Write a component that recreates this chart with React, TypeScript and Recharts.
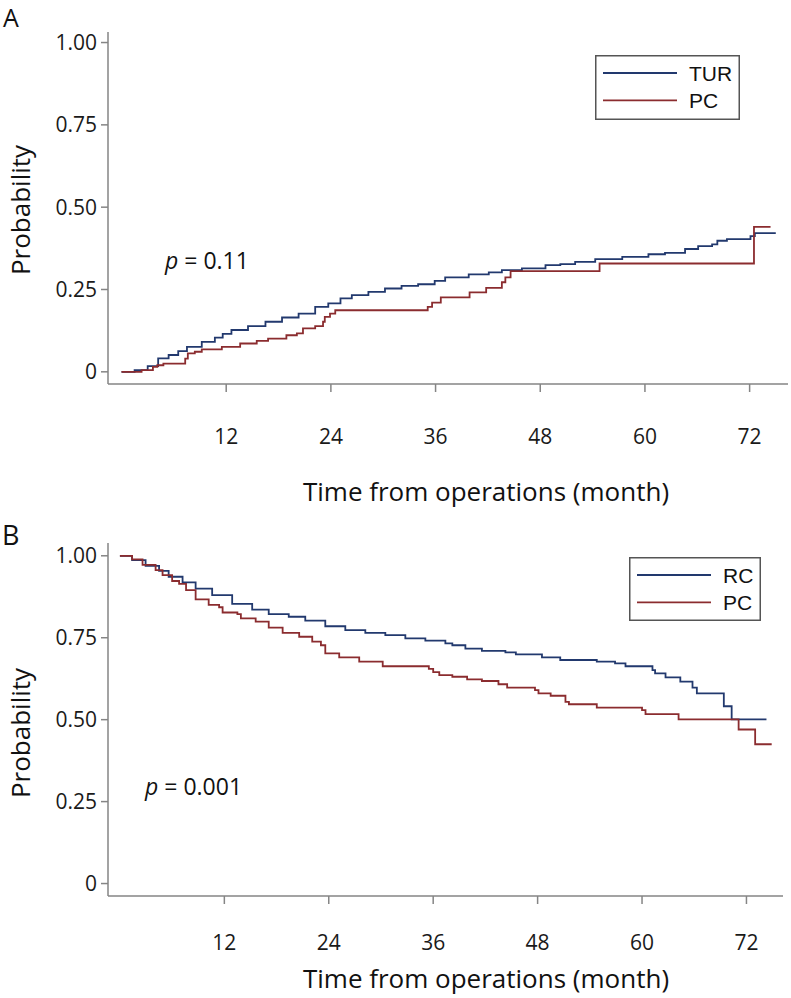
import React from "react";
import { LineChart, Line, XAxis, YAxis, Legend } from "recharts";

// Panel A: cumulative probability (TUR vs PC)
const timesA_TUR = [0, 1.5, 3.0, 4.2, 5.4, 6.5, 7.5, 9.2, 10.7, 11.6, 12.6, 14.5, 16.5, 18.4, 20.3, 22.2, 23.7, 25.1, 26.4, 28.3, 30.2, 32.1, 34.0, 35.9, 37.1, 39.8, 42.1, 43.6, 45.9, 48.6, 50.3, 52.0, 54.3, 57.4, 60.4, 62.3, 64.6, 66.1, 67.7, 68.3, 69.4, 72.1, 72.6, 75.0];
const probA_TUR = [0, 0.005, 0.017, 0.041, 0.051, 0.063, 0.076, 0.091, 0.104, 0.115, 0.127, 0.139, 0.152, 0.165, 0.177, 0.197, 0.208, 0.223, 0.233, 0.243, 0.253, 0.261, 0.266, 0.276, 0.287, 0.296, 0.302, 0.309, 0.314, 0.324, 0.327, 0.334, 0.342, 0.349, 0.357, 0.361, 0.373, 0.382, 0.387, 0.398, 0.403, 0.412, 0.421, 0.421];
const timesA_PC = [0, 2.3, 3.6, 4.1, 4.8, 7.3, 7.6, 8.4, 9.2, 11.5, 13.6, 15.5, 16.8, 18.9, 20.1, 20.8, 22.2, 23.1, 23.3, 23.9, 24.5, 35.1, 35.6, 36.6, 39.9, 41.8, 43.6, 44.0, 44.6, 54.8, 72.5, 74.4];
const probA_PC = [0, 0.005, 0.015, 0.02, 0.025, 0.04, 0.056, 0.061, 0.068, 0.076, 0.086, 0.094, 0.101, 0.111, 0.117, 0.132, 0.139, 0.152, 0.167, 0.177, 0.187, 0.197, 0.21, 0.226, 0.241, 0.255, 0.272, 0.287, 0.306, 0.329, 0.44, 0.44];

// Panel B: survival probability (RC vs PC)
const timesB_RC = [0, 1.4, 2.95, 4.5, 5.6, 7.2, 8.7, 10.6, 12.9, 15.2, 17.1, 19.4, 21.3, 23.6, 25.9, 28.2, 30.5, 32.8, 35.1, 37.4, 38.2, 39.7, 41.6, 44.3, 45.5, 48.5, 50.6, 54.8, 56.9, 58.1, 61.2, 61.5, 62.7, 64.4, 65.8, 66.3, 69.4, 70.3, 74.3];
const probB_RC = [1.0, 0.987, 0.969, 0.954, 0.936, 0.919, 0.9, 0.88, 0.853, 0.836, 0.822, 0.814, 0.802, 0.785, 0.773, 0.765, 0.758, 0.748, 0.741, 0.733, 0.727, 0.717, 0.71, 0.705, 0.699, 0.69, 0.682, 0.677, 0.672, 0.663, 0.651, 0.641, 0.629, 0.616, 0.598, 0.58, 0.541, 0.501, 0.501];
const timesB_PC = [0, 1.4, 2.6, 4.1, 4.9, 6.0, 6.8, 7.6, 8.7, 10.2, 11.4, 11.8, 13.5, 13.9, 15.6, 17.1, 18.7, 20.6, 22.1, 23.1, 23.6, 25.2, 27.5, 30.2, 35.5, 36.0, 36.7, 38.2, 39.9, 41.6, 43.5, 44.5, 47.7, 48.1, 49.5, 51.2, 51.6, 54.8, 60.0, 60.4, 64.2, 71.1, 73.0, 74.9];
const probB_PC = [1.0, 0.989, 0.972, 0.956, 0.941, 0.923, 0.914, 0.895, 0.867, 0.85, 0.843, 0.827, 0.822, 0.809, 0.799, 0.781, 0.765, 0.753, 0.738, 0.727, 0.702, 0.69, 0.677, 0.663, 0.655, 0.645, 0.636, 0.631, 0.623, 0.618, 0.608, 0.598, 0.59, 0.58, 0.573, 0.554, 0.547, 0.537, 0.529, 0.517, 0.501, 0.47, 0.425, 0.425];

const xTicks = [12, 24, 36, 48, 60, 72];
const yTicks = [0, 0.25, 0.5, 0.75, 1];
const yTickLabels = ["0", "0.25", "0.50", "0.75", "1.00"];

const seriesA = ["TUR", "PC"];
const seriesB = ["RC", "PC"];

const BLUE = "#22396e";
const RED = "#8b2c2f";
const AXIS = "#858585";
const FONT = "'Open Sans', 'Noto Sans', sans-serif";

const toPoints = (ts: number[], vs: number[]) => ts.map((t, i) => ({ t, v: vs[i] }));

const fmtY = (v: number) => {
  const i = yTicks.indexOf(v);
  return i >= 0 ? yTickLabels[i] : String(v);
};

const makeLegend = (names: string[], w: number, h: number, lineX1: number, lineX2: number, textX: number) => (props: any) => {
  const payload = [...(props.payload || [])].sort(
    (a: any, b: any) => names.indexOf(a.value) - names.indexOf(b.value)
  );
  return (
    <svg width={w} height={h} style={{ display: "block" }}>
      <rect x={0.75} y={0.75} width={w - 1.5} height={h - 1.5} fill="#fff" stroke="#555" strokeWidth={1.5} />
      {payload.map((p: any, i: number) => {
        const y = 18 + i * 27.4;
        return (
          <g key={i}>
            <line x1={lineX1} x2={lineX2} y1={y} y2={y} stroke={p.color} strokeWidth={1.8} />
            <text x={textX} y={y} dy="0.36em" fontFamily="'Liberation Sans', Arial, sans-serif" fontSize={21} fill="#111">
              {p.value}
            </text>
          </g>
        );
      })}
    </svg>
  );
};

interface PanelProps {
  height: number;
  margin: { top: number; right: number; bottom: number; left: number };
  xDomain: [number, number];
  yDomain: [number, number];
  tickMargin: number;
  names: string[];
  d1: { t: number; v: number }[];
  d2: { t: number; v: number }[];
  legendPos: { left: number; top: number; w: number; h: number; lx1: number; lx2: number; tx: number };
}

const Panel = ({ height, margin, xDomain, yDomain, tickMargin, names, d1, d2, legendPos }: PanelProps) => (
  <LineChart width={791} height={height} margin={margin}>
    <XAxis
      type="number"
      dataKey="t"
      domain={xDomain}
      allowDataOverflow
      ticks={xTicks}
      height={60}
      tickSize={8}
      tickMargin={tickMargin}
      stroke={AXIS}
      strokeWidth={1.5}
      tick={{ fill: "#1a1a1a", fontSize: 21, fontFamily: FONT }}
      interval={0}
    />
    <YAxis
      type="number"
      dataKey="v"
      domain={yDomain}
      allowDataOverflow
      ticks={yTicks}
      width={60}
      tickSize={7}
      tickMargin={4}
      stroke={AXIS}
      strokeWidth={1.5}
      tickFormatter={fmtY}
      tick={{ fill: "#1a1a1a", fontSize: 21, fontFamily: FONT }}
      interval={0}
    />
    <Legend
      layout="horizontal"
      verticalAlign="middle"
      align="center"
      wrapperStyle={{ left: legendPos.left, top: legendPos.top, width: legendPos.w, height: legendPos.h }}
      content={makeLegend(names, legendPos.w, legendPos.h, legendPos.lx1, legendPos.lx2, legendPos.tx)}
    />
    <Line data={d1} dataKey="v" name={names[0]} type="stepAfter" stroke={BLUE} strokeWidth={1.8} dot={false} isAnimationActive={false} />
    <Line data={d2} dataKey="v" name={names[1]} type="stepAfter" stroke={RED} strokeWidth={1.8} dot={false} isAnimationActive={false} />
  </LineChart>
);

export default function App() {
  return (
    <div style={{ position: "absolute", left: 0, top: 0, width: 791, height: 998, background: "#fff", overflow: "hidden" }}>
      <div style={{ position: "absolute", left: 0, top: 0 }}>
        <Panel
          height={500}
          margin={{ top: 32, right: 3, bottom: 56, left: 48 }}
          xDomain={[-1.55, 76.4]}
          yDomain={[-0.037, 1.032]}
          tickMargin={37}
          names={seriesA}
          d1={toPoints(timesA_TUR, probA_TUR)}
          d2={toPoints(timesA_PC, probA_PC)}
          legendPos={{ left: 595, top: 55, w: 145, h: 65, lx1: 8, lx2: 82, tx: 94 }}
        />
      </div>
      <div style={{ position: "absolute", left: 0, top: 500 }}>
        <Panel
          height={498}
          margin={{ top: 43, right: 8, bottom: 42, left: 48 }}
          xDomain={[-1.37, 76.2]}
          yDomain={[-0.038, 1.039]}
          tickMargin={31}
          names={seriesB}
          d1={toPoints(timesB_RC, probB_RC)}
          d2={toPoints(timesB_PC, probB_PC)}
          legendPos={{ left: 629, top: 57, w: 132, h: 64, lx1: 8, lx2: 82, tx: 94 }}
        />
      </div>

      <svg width={791} height={998} style={{ position: "absolute", left: 0, top: 0, pointerEvents: "none" }} fontFamily={FONT} fill="#111">
        {/* Panel letters */}
        <text x={3} y={27} fontSize={25}>A</text>
        <text x={2} y={545} fontSize={27}>B</text>

        {/* Y axis titles */}
        <text x={20} y={210} fontSize={26} textAnchor="middle" dominantBaseline="central" transform="rotate(-90 20 210)">Probability</text>
        <text x={20} y={733} fontSize={26} textAnchor="middle" dominantBaseline="central" transform="rotate(-90 20 733)">Probability</text>

        {/* X axis titles */}
        <text x={486} y={491} fontSize={26} textAnchor="middle" dominantBaseline="central">Time from operations (month)</text>
        <text x={486} y={978} fontSize={26} textAnchor="middle" dominantBaseline="central">Time from operations (month)</text>

        {/* p-values */}
        <text x={165} y={260} fontSize={23} dominantBaseline="central">
          <tspan fontStyle="italic">p</tspan> = 0.11
        </text>
        <text x={145} y={786} fontSize={23} dominantBaseline="central">
          <tspan fontStyle="italic">p</tspan> = 0.001
        </text>
      </svg>
    </div>
  );
}
